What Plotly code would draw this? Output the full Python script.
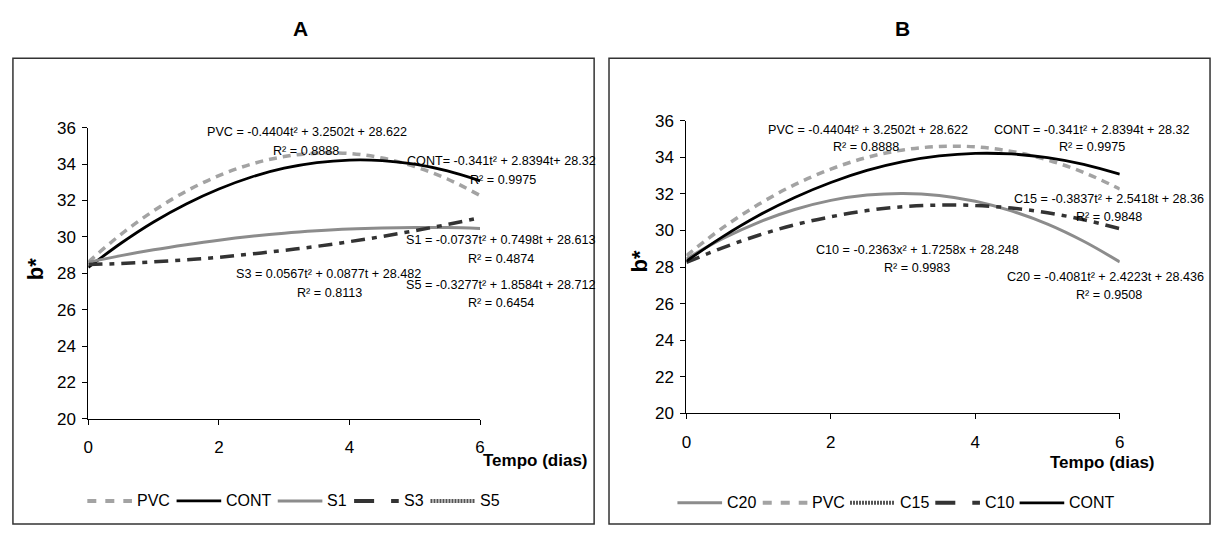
import plotly.graph_objects as go

W, H = 1219, 536

# ---- data (b* vs time in days) ----
tempo = [0, 0.5, 1, 1.5, 2, 2.5, 3, 3.5, 4, 4.5, 5, 5.5, 6]
pvc = [28.62, 30.14, 31.43, 32.51, 33.36, 34.00, 34.41, 34.60, 34.58, 34.33, 33.86, 33.18, 32.27]
cont = [28.32, 29.65, 30.82, 31.81, 32.63, 33.29, 33.77, 34.08, 34.22, 34.19, 33.99, 33.62, 33.08]
s1 = [28.61, 28.97, 29.29, 29.57, 29.82, 30.03, 30.20, 30.33, 30.43, 30.49, 30.52, 30.51, 30.46]
s3 = [28.48, 28.54, 28.63, 28.74, 28.88, 29.06, 29.26, 29.48, 29.74, 30.02, 30.34, 30.68, 31.05]
c20 = [28.44, 29.55, 30.45, 31.15, 31.65, 31.94, 32.03, 31.92, 31.60, 31.07, 30.35, 29.41, 28.28]
c10 = [28.25, 29.05, 29.74, 30.31, 30.75, 31.09, 31.30, 31.39, 31.37, 31.23, 30.97, 30.59, 30.10]

x_ticks = [0, 2, 4, 6]
y_ticks = [20, 22, 24, 26, 28, 30, 32, 34, 36]

legend_a = ["PVC", "CONT", "S1", "S3", "S5"]
legend_b = ["C20", "PVC", "C15", "C10", "CONT"]

eq_a = [
    ("PVC = -0.4404t² + 3.2502t + 28.622", 304, 128),
    ("R² = 0.8888", 303, 147),
    ("CONT= -0.341t² + 2.8394t+ 28.32", 501, 158),
    ("R² = 0.9975", 502, 177),
    ("S1 = -0.0737t² + 0.7498t + 28.613", 500, 240),
    ("R² = 0.4874", 500, 259),
    ("S3 = 0.0567t² + 0.0877t + 28.482", 326, 275),
    ("R² = 0.8113", 327, 294),
    ("S5 = -0.3277t² + 1.8584t + 28.712", 500, 286),
    ("R² = 0.6454", 500, 305),
]
eq_b = [
    ("PVC = -0.4404t² + 3.2502t + 28.622", 870, 125),
    ("R² = 0.8888", 868, 143),
    ("CONT = -0.341t² + 2.8394t + 28.32", 1095, 125),
    ("R² = 0.9975", 1096, 143),
    ("C15 = -0.3837t² + 2.5418t + 28.36", 1113, 197),
    ("R² = 0.9848", 1113, 216),
    ("C10 = -0.2363x² + 1.7258x + 28.248", 920, 250),
    ("R² = 0.9983", 920, 268),
    ("C20 = -0.4081t² + 2.4223t + 28.436", 1110, 278),
    ("R² = 0.9508", 1113, 297),
]

FONT = "Liberation Sans, Arial, sans-serif"

def px(x):
    return x / W

def py(y):
    return 1 - y / H

style = {
    "PVC": dict(color="#a3a3a3", width=3.5, dash="8px,6px"),
    "CONT": dict(color="#000000", width=2.8),
    "S1": dict(color="#8c8c8c", width=3),
    "S3": dict(color="#333333", width=3.5, dash="14px,7px,5px,7px"),
    "S5": dict(color="#555555", width=4, dash="2px,1px"),
    "C20": dict(color="#8c8c8c", width=3),
    "C15": dict(color="#555555", width=4, dash="2px,1px"),
    "C10": dict(color="#333333", width=3.5, dash="14px,7px,5px,7px"),
}
legend_style = dict(style)
legend_style["PVC"] = dict(color="#a3a3a3", width=4, dash="9px,9px")
legend_style["S3"] = dict(color="#333333", width=4, dash="20px,17px,8px,20px")
legend_style["C10"] = legend_style["S3"]

fig = go.Figure()

for name, ys in [("PVC", pvc), ("CONT", cont), ("S1", s1), ("S3", s3)]:
    fig.add_trace(go.Scatter(x=tempo, y=ys, mode="lines", name=name, showlegend=False,
                             line=dict(shape="spline", **style[name]),
                             xaxis="x", yaxis="y"))
for name, ys in [("C20", c20), ("PVC", pvc), ("C10", c10), ("CONT", cont)]:
    fig.add_trace(go.Scatter(x=tempo, y=ys, mode="lines", name=name, showlegend=False,
                             line=dict(shape="spline", **style[name]),
                             xaxis="x2", yaxis="y2"))

axis_common = dict(showgrid=False, zeroline=False, showline=True, linecolor="#000",
                   linewidth=1, ticks="outside", ticklen=5, tickcolor="#000",
                   tickfont=dict(family=FONT, size=17, color="#000"))

fig.update_layout(
    width=W, height=H,
    margin=dict(l=0, r=0, t=0, b=0),
    paper_bgcolor="white", plot_bgcolor="white",
    font=dict(family=FONT, color="#000"),
    showlegend=False,
    xaxis=dict(domain=[px(84), px(479)], range=[0, 6], tickvals=x_ticks,
               anchor="y", ticklabelstandoff=8, **axis_common),
    yaxis=dict(domain=[py(425), py(123)], range=[20, 36], tickvals=y_ticks,
               anchor="x", ticklabelstandoff=3, **axis_common),
    xaxis2=dict(domain=[px(687), px(1124)], range=[0, 6], tickvals=x_ticks,
                anchor="y2", ticklabelstandoff=8, **axis_common),
    yaxis2=dict(domain=[py(419), py(116)], range=[20, 36], tickvals=y_ticks,
                anchor="x2", ticklabelstandoff=3, **axis_common),
)

shapes = []
# panel frames
for x0, x1 in [(8, 594), (609, 1215)]:
    shapes.append(dict(type="rect", xref="paper", yref="paper",
                       x0=px(x0), x1=px(x1), y0=py(534), y1=py(51),
                       line=dict(color="#333", width=1.5), fillcolor="rgba(0,0,0,0)",
                       layer="below"))

ann = []
# manual legends: sample 45 px, label right after
legend_rows = [
    (legend_a, [83, 173, 275, 352, 429], 510),
    (legend_b, [678, 764, 852, 938, 1023], 512),
]
for names, starts, ly in legend_rows:
    for name, sx in zip(names, starts):
        shapes.append(dict(type="line", xref="paper", yref="paper",
                           x0=px(sx), x1=px(sx + 45), y0=py(ly), y1=py(ly),
                           line=legend_style[name]))
        ann.append(dict(text=name, x=px(sx + 48), y=py(ly), xref="paper", yref="paper",
                        showarrow=False, xanchor="left", yanchor="middle",
                        font=dict(family=FONT, size=16, color="#000")))
fig.update_layout(shapes=shapes)

for text, x, y in eq_a + eq_b:
    ann.append(dict(text=text, x=px(x), y=py(y), xref="paper", yref="paper",
                    showarrow=False, xanchor="center", yanchor="middle",
                    font=dict(family=FONT, size=12.6, color="#000")))
for text, x, y in [("A", 298, 20), ("B", 905, 20)]:
    ann.append(dict(text=f"<b>{text}</b>", x=px(x), y=py(y), xref="paper", yref="paper",
                    showarrow=False, xanchor="center", yanchor="middle",
                    font=dict(family=FONT, size=21, color="#000")))
for x, y in [(535, 468), (1107, 470)]:
    ann.append(dict(text="<b>Tempo (dias)</b>", x=px(x), y=py(y), xref="paper", yref="paper",
                    showarrow=False, xanchor="center", yanchor="middle",
                    font=dict(family=FONT, size=17, color="#000")))
for x, y in [(31, 270), (640, 262)]:
    ann.append(dict(text="<b>b*</b>", x=px(x), y=py(y), xref="paper", yref="paper",
                    showarrow=False, textangle=-90, xanchor="center", yanchor="middle",
                    font=dict(family=FONT, size=22, color="#000")))
fig.update_layout(annotations=ann)

fig.write_html("out.html", config={"displayModeBar": False},
               post_script="document.body.style.margin='0';document.body.style.overflow='hidden';")
